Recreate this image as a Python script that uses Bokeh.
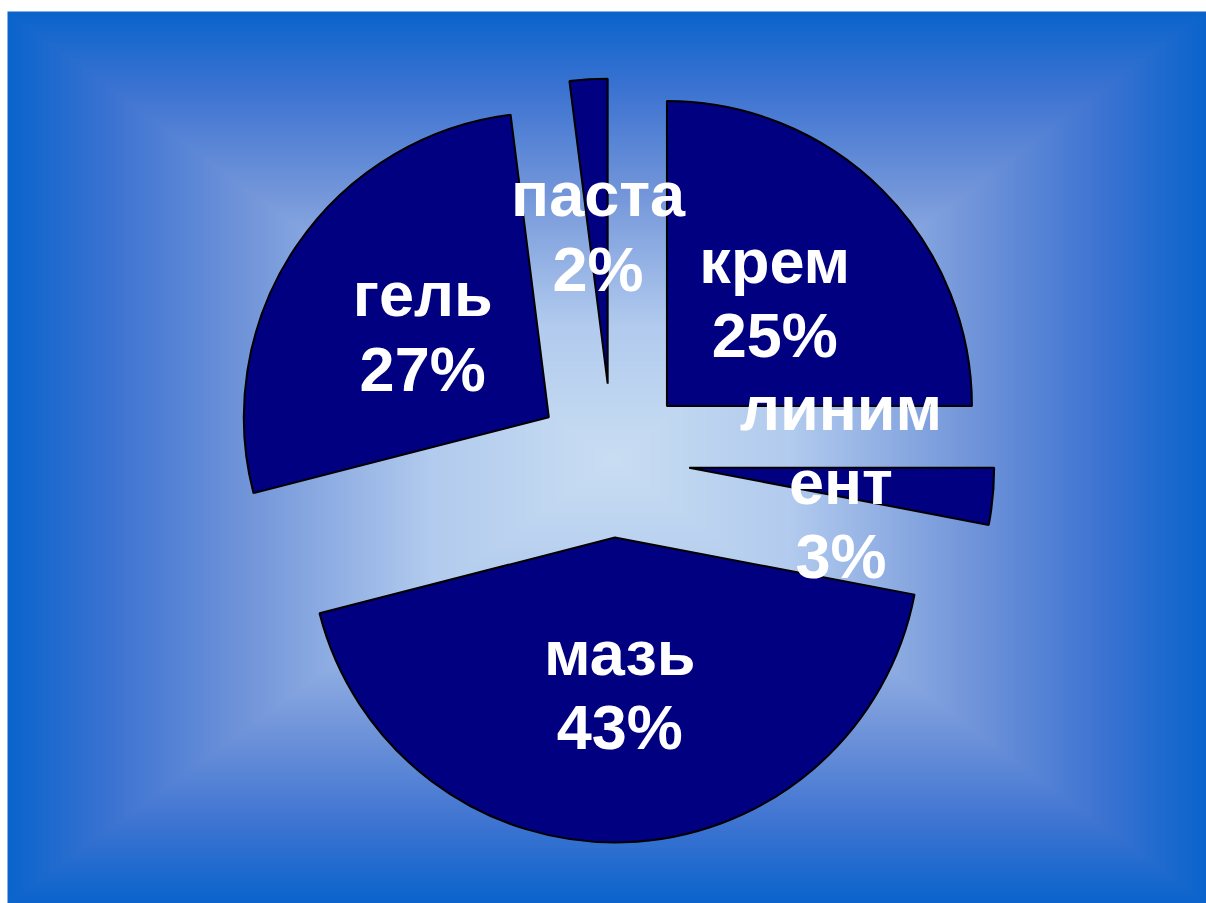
import numpy as np
from bokeh.plotting import figure
from bokeh.models import Range1d, ColumnDataSource
from bokeh.core.properties import value
from bokeh.embed import file_html
from bokeh.resources import INLINE

# ---- data ----
categories = ["крем", "линимент", "мазь", "гель", "паста"]
shares = [25, 3, 43, 27, 2]
label_texts = ["крем\n25%", "линим\nент\n3%", "мазь\n43%", "гель\n27%", "паста\n2%"]

W, H = 1206, 903
p = figure(width=W, height=H, output_backend="svg", toolbar_location=None,
           x_range=Range1d(0, W), y_range=Range1d(0, H), min_border=0)
p.axis.visible = False
p.grid.visible = False
p.outline_line_color = None
p.background_fill_color = "white"
p.border_fill_color = "white"

# ---- background: rectangular "from centre" gradient ----
bx0, by0 = 7, 11          # top-left of the backdrop in page pixels
bw, bh = W - bx0, H - by0
cx, cy = 612 - bx0, 460 - by0
xs = np.arange(bw) + 0.5
ys = np.arange(bh) + 0.5
X, Y = np.meshgrid(xs, ys)
tx = np.where(X < cx, (cx - X) / cx, (X - cx) / (bw - cx))
ty = np.where(Y < cy, (cy - Y) / cy, (Y - cy) / (bh - cy))
t = np.clip(np.maximum(tx, ty), 0, 1)
stops_t = [0.0, 0.3, 0.6, 0.82, 1.0]
stops_r = [201, 178, 115, 62, 10]
stops_g = [222, 203, 150, 116, 100]
stops_b = [243, 238, 218, 210, 204]
R = np.interp(t, stops_t, stops_r).astype(np.uint32)
G = np.interp(t, stops_t, stops_g).astype(np.uint32)
B = np.interp(t, stops_t, stops_b).astype(np.uint32)
img = (255 << 24) | (B << 16) | (G << 8) | R
img = img[::-1, :]  # image rows go bottom-up
p.image_rgba(image=[img.astype(np.uint32)], x=bx0, y=0, dw=bw, dh=bh)

# ---- exploded pie ----
pcx, pcy = 612, H - 460
radius = 305
explode = 77
total = float(sum(shares))
cum = np.concatenate([[0], np.cumsum(shares)]) / total * 360.0
start_deg = 90 - cum[1:]
end_deg = 90 - cum[:-1]
mid = np.radians((start_deg + end_deg) / 2)
wx = pcx + explode * np.cos(mid)
wy = pcy + explode * np.sin(mid)
src = ColumnDataSource(dict(x=wx, y=wy, sa=np.radians(start_deg), ea=np.radians(end_deg),
                            name=categories))
p.wedge(x="x", y="y", radius=radius, start_angle="sa", end_angle="ea",
        direction="anticlock", fill_color="#000080", line_color="black",
        line_width=2, source=src)

lx = wx + 0.5 * radius * np.cos(mid)
ly = wy + 0.5 * radius * np.sin(mid)
lsrc = ColumnDataSource(dict(x=lx, y=ly, text=label_texts))
p.text(x="x", y="y", text="text", source=lsrc, text_color="white",
       text_font=value("Liberation Sans"), text_font_style="bold",
       text_font_size="63px", text_align="center", text_baseline="middle",
       text_line_height=1.06)

open("out.html", "w").write(file_html(p, INLINE))
